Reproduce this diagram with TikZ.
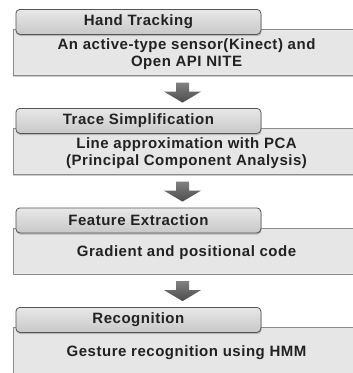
\documentclass[tikz,border=0pt]{standalone}
\usepackage{fontspec}
\setmainfont{Liberation Sans}[LetterSpace=3.5]
\usetikzlibrary{shadows,calc}
\definecolor{boxfill}{HTML}{E6E6E6}
\definecolor{boxline}{HTML}{8C8C8C}
\definecolor{tabtop}{HTML}{E8E8E8}
\definecolor{tabbot}{HTML}{C8C8C8}
\definecolor{tabline}{HTML}{555555}
\definecolor{txt}{HTML}{222222}
\definecolor{arrtop}{HTML}{808080}
\definecolor{arrbot}{HTML}{4C4C4C}
\begin{document}
\begin{tikzpicture}[x=1pt,y=-1pt,
  tabbox/.style={draw=tabline, line width=0.8pt, rounded corners=4pt,
    top color=tabtop, bottom color=tabbot,
    minimum width=245pt, minimum height=25pt, inner sep=0pt,
    anchor=north west, font=\fontsize{15}{17}\selectfont\bfseries, text=txt,
    drop shadow={shadow xshift=0.6pt, shadow yshift=-1.6pt, opacity=0.45}},
  stagebox/.style={draw=boxline, line width=0.6pt, fill=boxfill,
    minimum width=347.5pt, minimum height=46pt, inner sep=0pt, anchor=north west,
    drop shadow={shadow xshift=0.4pt, shadow yshift=-1.2pt, opacity=0.4}},
  boxtext/.style={font=\fontsize{15}{17}\selectfont\bfseries, text=txt, align=center, inner sep=0pt},
  flowarrow/.style={top color=arrtop, bottom color=arrbot, draw=none}
]
\clip (0,0) rectangle (353,373);
\fill[white] (0,0) rectangle (353,373);

% stage 1
\node[stagebox] (b1) at (12.5,29) {};
\node[tabbox] (t1) at (15.5,9) {Hand Tracking};
\node[boxtext] (x1) at ($(b1.center)+(0,2)$) {An active-type sensor(Kinect) and\\Open API NITE};

% stage 2
\node[stagebox] (b2) at (12.5,128) {};
\node[tabbox] (t2) at (15.5,108) {Trace Simplification};
\node[boxtext] (x2) at ($(b2.center)+(0,2)$) {Line approximation with PCA\\(Principal Component Analysis)};

% stage 3
\node[stagebox] (b3) at (12.5,227.5) {};
\node[tabbox] (t3) at (15.5,207.5) {Feature Extraction};
\node[boxtext] (x3) at ($(b3.center)+(0,2)$) {Gradient and positional code};

% stage 4
\node[stagebox] (b4) at (12.5,327) {};
\node[tabbox] (t4) at (15.5,307) {Recognition};
\node[boxtext] (x4) at ($(b4.center)+(0,2)$) {Gesture recognition using HMM};

% block arrows between stages
\foreach \s/\n in {b1/a1,b2/a2,b3/a3}{
  \coordinate (\n) at ($(\s.south west)+(170,7)$);
  \path[flowarrow] ($(\n)+(-6.5,0)$) -- ($(\n)+(6.5,0)$) -- ($(\n)+(6.5,9)$)
    -- ($(\n)+(18.5,9)$) -- ($(\n)+(0,20)$) -- ($(\n)+(-18.5,9)$)
    -- ($(\n)+(-6.5,9)$) -- cycle;
}
\end{tikzpicture}
\end{document}
